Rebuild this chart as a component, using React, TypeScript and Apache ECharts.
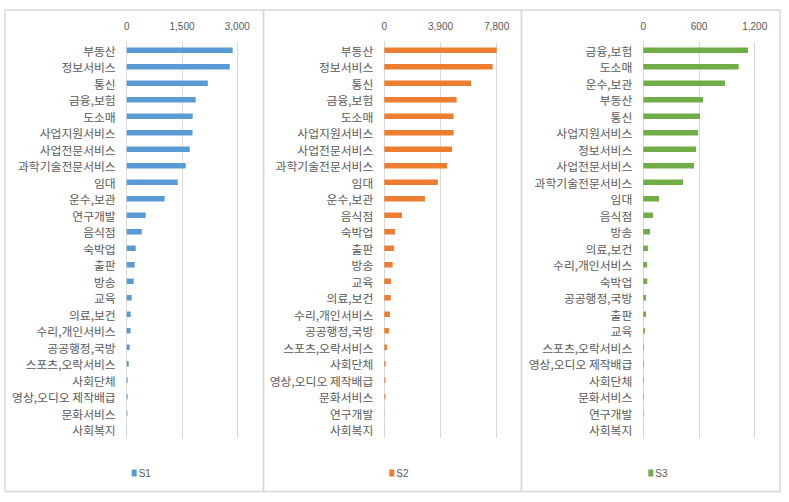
import { useEffect, useRef } from "react";
import * as echarts from "echarts";

const categoriesS1 = [
  "부동산", "정보서비스", "통신", "금융,보험", "도소매", "사업지원서비스", "사업전문서비스",
  "과학기술전문서비스", "임대", "운수,보관", "연구개발", "음식점", "숙박업", "출판", "방송",
  "교육", "의료,보건", "수리,개인서비스", "공공행정,국방", "스포츠,오락서비스", "사회단체",
  "영상,오디오 제작배급", "문화서비스", "사회복지",
];
const valuesS1 = [
  2875, 2795, 2200, 1870, 1790, 1785, 1710, 1600, 1385, 1030, 515, 410, 245, 215, 190,
  135, 110, 105, 80, 55, 27, 25, 20, 3,
];

const categoriesS2 = [
  "부동산", "정보서비스", "통신", "금융,보험", "도소매", "사업지원서비스", "사업전문서비스",
  "과학기술전문서비스", "임대", "운수,보관", "음식점", "숙박업", "출판", "방송", "교육",
  "의료,보건", "수리,개인서비스", "공공행정,국방", "스포츠,오락서비스", "사회단체",
  "영상,오디오 제작배급", "문화서비스", "연구개발", "사회복지",
];
const valuesS2 = [
  7810, 7520, 6020, 5020, 4810, 4810, 4700, 4350, 3720, 2820, 1225, 740, 670, 580, 460,
  450, 390, 320, 185, 90, 85, 80, 10, 5,
];

const categoriesS3 = [
  "금융,보험", "도소매", "운수,보관", "부동산", "통신", "사업지원서비스", "정보서비스",
  "사업전문서비스", "과학기술전문서비스", "임대", "음식점", "방송", "의료,보건",
  "수리,개인서비스", "숙박업", "공공행정,국방", "출판", "교육", "스포츠,오락서비스",
  "영상,오디오 제작배급", "사회단체", "문화서비스", "연구개발", "사회복지",
];
const valuesS3 = [
  1128, 1027, 880, 643, 611, 589, 568, 546, 428, 169, 104, 72, 50, 40, 43, 29, 29, 18,
  8, 8, 7, 6, 5, 1,
];

const seriesNames = ["S1", "S2", "S3"];
const axisMax = [3000, 7800, 1200];
const axisInterval = [1500, 3900, 600];

const colors = ["#5B9BD5", "#ED7D31", "#70AD47"];
const gridLefts = [126.7, 384.3, 643.3];
const gridWidths = [110.6, 112.4, 111.4];
const panelBounds = [
  [5, 263.5],
  [263.5, 521.5],
  [521.5, 780],
];

export default function App() {
  const ref = useRef<HTMLDivElement>(null);

  useEffect(() => {
    if (!ref.current) return;
    const chart = echarts.init(ref.current, undefined, { renderer: "svg" });
    const cats = [categoriesS1, categoriesS2, categoriesS3];
    const vals = [valuesS1, valuesS2, valuesS3];
    const textColor = "#595959";
    const gridColor = "#d9d9d9";

    const option: any = {
      animation: false,
      backgroundColor: "#ffffff",
      grid: [0, 1, 2].map((i) => ({
        left: gridLefts[i],
        width: gridWidths[i],
        top: 42,
        height: 396,
        containLabel: false,
      })),
      xAxis: [0, 1, 2].map((i) => ({
        type: "value",
        gridIndex: i,
        position: "top",
        min: 0,
        max: axisMax[i],
        interval: axisInterval[i],
        axisLine: { show: false },
        axisTick: { show: false },
        splitLine: { show: true, lineStyle: { color: gridColor, width: 1 } },
        axisLabel: {
          color: textColor,
          fontSize: 10,
          fontFamily: "Liberation Sans",
          margin: 11,
          formatter: (v: number) => v.toLocaleString("en-US"),
        },
      })),
      yAxis: [0, 1, 2].map((i) => ({
        type: "category",
        gridIndex: i,
        inverse: true,
        data: cats[i],
        axisLine: { show: true, lineStyle: { color: gridColor, width: 1 } },
        axisTick: { show: false },
        axisLabel: {
          color: textColor,
          fontSize: 11.8,
          fontFamily: "Noto Sans CJK KR",
          margin: 11,
          interval: 0,
        },
      })),
      legend: [0, 1, 2].map((i) => ({
        data: [seriesNames[i]],
        left: gridLefts[i],
        top: 463,
        itemWidth: 5,
        itemHeight: 7,
        icon: "rect",
        textStyle: { color: textColor, fontSize: 10, fontFamily: "Liberation Sans", padding: [0, 0, 0, -3] },
        selectedMode: false,
      })),
      series: [0, 1, 2].map((i) => ({
        type: "bar",
        name: seriesNames[i],
        xAxisIndex: i,
        yAxisIndex: i,
        data: vals[i],
        barWidth: 5.5,
        itemStyle: { color: colors[i] },
      })),
      graphic: panelBounds.map(([x0, x1]) => ({
        type: "rect",
        shape: { x: x0, y: 10, width: x1 - x0, height: 481.5 },
        style: { fill: "none", stroke: gridColor, lineWidth: 1.5 },
        silent: true,
        z: -1,
      })),
    };
    chart.setOption(option);
    return () => chart.dispose();
  }, []);

  return (
    <div
      ref={ref}
      style={{ position: "fixed", left: 0, top: 0, width: 789, height: 502 }}
    />
  );
}
